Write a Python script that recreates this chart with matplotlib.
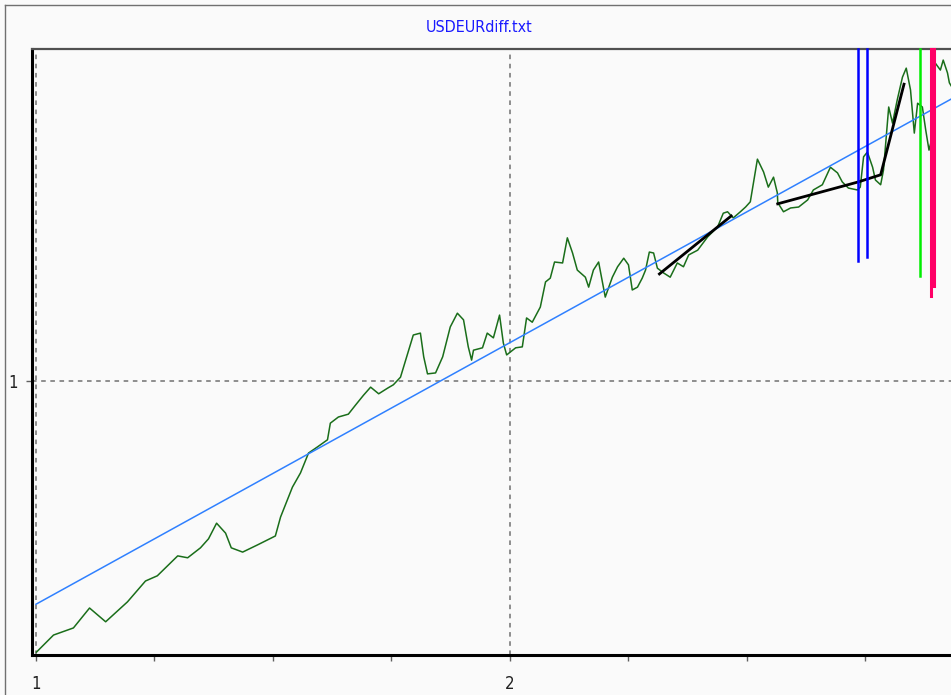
import matplotlib
matplotlib.use("Agg")
import matplotlib.pyplot as plt
from matplotlib.lines import Line2D
from matplotlib.ticker import MultipleLocator, FixedLocator
import numpy as np

# ---- data (log n vs log R/S) ----
log_n = [1.001, 1.037, 1.079, 1.113, 1.147, 1.193, 1.231, 1.256, 1.299, 1.320,
         1.347, 1.364, 1.381, 1.400, 1.412, 1.436, 1.467, 1.505, 1.516, 1.541,
         1.558, 1.575, 1.594, 1.615, 1.621, 1.638, 1.659, 1.674, 1.691, 1.706,
         1.723, 1.742, 1.754, 1.769, 1.780, 1.796, 1.811, 1.818, 1.826, 1.843,
         1.858, 1.874, 1.889, 1.902, 1.912, 1.919, 1.923, 1.942, 1.952, 1.965,
         1.978, 1.986, 1.993, 2.012, 2.026, 2.035, 2.047, 2.064, 2.075, 2.085,
         2.094, 2.111, 2.121, 2.132, 2.142, 2.159, 2.166, 2.176, 2.187, 2.195,
         2.201, 2.216, 2.227, 2.240, 2.250, 2.258, 2.269, 2.279, 2.286, 2.294,
         2.303, 2.311, 2.324, 2.338, 2.353, 2.366, 2.377, 2.396, 2.417, 2.438,
         2.450, 2.459, 2.471, 2.486, 2.497, 2.507, 2.514, 2.522, 2.535, 2.545,
         2.556, 2.564, 2.565, 2.577, 2.592, 2.609, 2.628, 2.640, 2.659, 2.676,
         2.691, 2.701, 2.714, 2.733, 2.739, 2.746, 2.754, 2.765, 2.771, 2.782,
         2.788, 2.799, 2.807, 2.817, 2.828, 2.836, 2.845, 2.853, 2.860, 2.870,
         2.877, 2.884, 2.891, 2.897, 2.908, 2.914, 2.923, 2.927, 2.936]
log_rs = [0.428, 0.464, 0.479, 0.521, 0.492, 0.534, 0.578, 0.589, 0.631, 0.627,
          0.648, 0.667, 0.700, 0.679, 0.648, 0.639, 0.654, 0.673, 0.713, 0.776,
          0.806, 0.848, 0.861, 0.876, 0.911, 0.924, 0.930, 0.949, 0.970, 0.987,
          0.973, 0.985, 0.992, 1.008, 1.044, 1.097, 1.101, 1.051, 1.015, 1.017,
          1.051, 1.114, 1.143, 1.129, 1.072, 1.044, 1.065, 1.070, 1.101, 1.091,
          1.139, 1.080, 1.055, 1.070, 1.072, 1.133, 1.124, 1.156, 1.209, 1.217,
          1.251, 1.249, 1.302, 1.270, 1.234, 1.219, 1.198, 1.234, 1.251, 1.209,
          1.177, 1.219, 1.241, 1.259, 1.245, 1.192, 1.198, 1.217, 1.234, 1.272,
          1.270, 1.238, 1.228, 1.219, 1.249, 1.241, 1.266, 1.276, 1.304, 1.325,
          1.354, 1.357, 1.344, 1.357, 1.367, 1.378, 1.420, 1.468, 1.441, 1.409,
          1.430, 1.397, 1.376, 1.357, 1.365, 1.367, 1.382, 1.403, 1.414, 1.451,
          1.439, 1.420, 1.407, 1.403, 1.409, 1.473, 1.483, 1.451, 1.424, 1.414,
          1.445, 1.578, 1.544, 1.593, 1.641, 1.660, 1.614, 1.523, 1.586, 1.578,
          1.530, 1.487, 1.515, 1.671, 1.656, 1.677, 1.650, 1.629, 1.614]

# regression fit (Hurst exponent)
fit_slope = 0.552
fit_intercept = -0.023
fit_x = [1.0, 2.95]

# local trend segments
seg1_x = [2.313, 2.469]
seg1_y = [1.224, 1.350]
seg2_x = [2.562, 2.735, 2.782, 2.832]
seg2_y = [1.373, 1.420, 1.435, 1.629]

# vertical cycle markers: x position and lower end
blue_marks_x = [2.735, 2.754]
blue_marks_low = [1.253, 1.262]
green_marks_x = [2.864]
green_marks_low = [1.221]
red_marks_x = [2.889, 2.895]
red_marks_low = [1.179, 1.200]

title = "USDEURdiff.txt"
x_major = [1, 2]
y_major = [1]

W, H = 951, 695
fig = plt.figure(figsize=(W / 100, H / 100), dpi=100)
bg = "#fafafa"
fig.patch.set_facecolor(bg)

fam = ["DejaVu Sans"]

ax_l, ax_r, ax_t, ax_b = 32, 962, 49, 655
ax = fig.add_axes([ax_l / W, 1 - ax_b / H, (ax_r - ax_l) / W, (ax_b - ax_t) / H])
ax.set_facecolor(bg)

ax.set_xlim(0.9916, 0.9916 + (ax_r - ax_l) / 474)
ax.set_ylim(0.4219, 1.7004)

# grid
for xv in x_major:
    ax.axvline(xv, color="#707070", lw=1.1, dashes=(3, 3), zorder=1)
for yv in y_major:
    ax.axhline(yv, color="#707070", lw=1.1, dashes=(3, 3), zorder=1)

# data line
ax.plot(log_n, log_rs, color="#1a6e1a", lw=1.1, zorder=3)
# fit line
fx = np.array(fit_x)
ax.plot(fx, fit_slope * fx + fit_intercept, color="#2f80ff", lw=1.1, zorder=4)
# trend segments
ax.plot(seg1_x, seg1_y, color="black", lw=2.0, zorder=5, solid_capstyle="butt")
ax.plot(seg2_x, seg2_y, color="black", lw=2.0, zorder=5, solid_capstyle="butt")

top = ax.get_ylim()[1]
for xv, lo in zip(blue_marks_x, blue_marks_low):
    ax.plot([xv, xv], [lo, top], color="#0000ff", lw=1.8, zorder=6, clip_on=False)
for xv, lo in zip(green_marks_x, green_marks_low):
    ax.plot([xv, xv], [lo, top], color="#00ee00", lw=1.8, zorder=6, clip_on=False)
for xv, lo in zip(red_marks_x, red_marks_low):
    ax.plot([xv, xv], [lo, top], color="#ff0066", lw=2.2, zorder=6, clip_on=False)

# spines
ax.spines["left"].set_linewidth(2.2)
ax.spines["left"].set_color("black")
ax.spines["bottom"].set_linewidth(2.2)
ax.spines["bottom"].set_color("black")
ax.spines["top"].set_linewidth(1.6)
ax.spines["top"].set_color("#505050")
ax.spines["right"].set_visible(False)

ax.xaxis.set_major_locator(FixedLocator(x_major))
ax.xaxis.set_minor_locator(MultipleLocator(0.25))
ax.yaxis.set_major_locator(FixedLocator(y_major))
ax.set_xticklabels([str(v) for v in x_major])
ax.set_yticklabels([str(v) for v in y_major])
ax.tick_params(axis="x", which="major", direction="out", length=4.5, width=1,
               color="#606060", pad=10, labelsize=12)
ax.tick_params(axis="x", which="minor", direction="out", length=4, width=1,
               color="#606060")
ax.tick_params(axis="y", which="major", direction="out", length=4.5, width=1,
               color="#606060", pad=6, labelsize=12)
for lab in ax.get_xticklabels() + ax.get_yticklabels():
    lab.set_family(fam)
    lab.set_stretch("condensed")
    lab.set_color("#202020")

fig.text(479 / W, 1 - 28 / H, title, color="#1a1aff", fontsize=11.5,
         family=fam, stretch="condensed", ha="center", va="center")

# outer frame
fig.add_artist(Line2D([5 / W, 5 / W], [0, 1 - 5 / H], transform=fig.transFigure,
                      color="#707070", lw=1.0))
fig.add_artist(Line2D([5 / W, 1], [1 - 5 / H, 1 - 5 / H], transform=fig.transFigure,
                      color="#707070", lw=1.0))

fig.savefig("out.png", dpi=100, facecolor=bg)
